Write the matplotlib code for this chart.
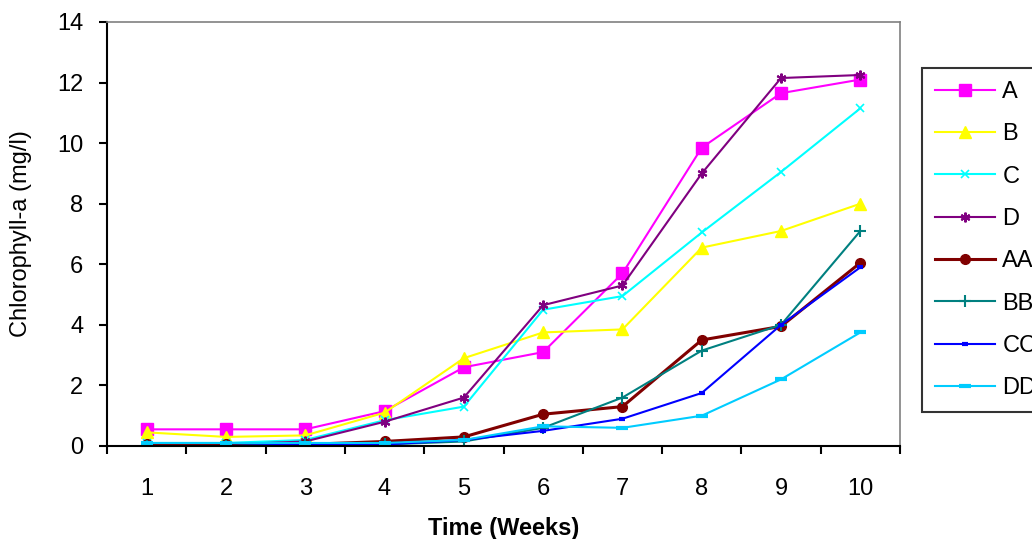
import matplotlib
matplotlib.use("Agg")
import matplotlib.pyplot as plt
from matplotlib.ticker import FixedLocator

plt.rcParams["font.family"] = ["Liberation Sans", "DejaVu Sans"]

weeks = [1, 2, 3, 4, 5, 6, 7, 8, 9, 10]
labels = ["A", "B", "C", "D", "AA", "BB", "CC", "DD"]

chl_a = [0.55, 0.55, 0.55, 1.15, 2.6, 3.1, 5.7, 9.85, 11.65, 12.1]
chl_b = [0.45, 0.3, 0.35, 1.1, 2.9, 3.75, 3.85, 6.55, 7.1, 8.0]
chl_c = [0.1, 0.1, 0.2, 0.85, 1.3, 4.5, 4.95, 7.05, 9.05, 11.15]
chl_d = [0.05, 0.05, 0.15, 0.8, 1.6, 4.65, 5.3, 9.0, 12.15, 12.25]
chl_aa = [0.05, 0.05, 0.05, 0.15, 0.3, 1.05, 1.3, 3.5, 3.95, 6.05]
chl_bb = [0.0, 0.0, 0.05, 0.05, 0.15, 0.6, 1.6, 3.15, 4.0, 7.1]
chl_cc = [0.0, 0.0, 0.05, 0.05, 0.2, 0.5, 0.9, 1.75, 4.0, 5.9]
chl_dd = [0.1, 0.1, 0.1, 0.1, 0.2, 0.65, 0.6, 1.0, 2.2, 3.75]

series = [chl_a, chl_b, chl_c, chl_d, chl_aa, chl_bb, chl_cc, chl_dd]
colors = ["#FF00FF", "#FFFF00", "#00FFFF", "#800080",
          "#800000", "#008080", "#0000FF", "#00CCFF"]
markers = ["s", "^", "x", (6, 2, 0), "o", "+", "_", "_"]
msizes = [8, 8, 6, 7, 7, 8, 5, 8]
mews = [1, 1, 1.2, 1.5, 1, 1.5, 3, 3]
lws = [1.5, 1.5, 1.5, 1.5, 2.2, 1.5, 1.5, 1.5]

fig = plt.figure(figsize=(10.32, 5.39), dpi=100)
ax = fig.add_axes([107 / 1032, 93 / 539, 793 / 1032, 424 / 539])

for vals, lab, col, mk, ms, mew, lw in zip(series, labels, colors, markers,
                                           msizes, mews, lws):
    ax.plot(weeks, vals, color=col, marker=mk, markersize=ms,
            markeredgewidth=mew, markerfacecolor=col, markeredgecolor=col,
            linewidth=lw, label=lab)

ax.set_xlim(0.5, 10.5)
ax.set_ylim(0, 14)
ax.set_yticks(range(0, 15, 2))

# category axis: ticks between weeks, labels in the middle
ax.xaxis.set_major_locator(FixedLocator([w + 0.5 for w in range(0, 11)]))
ax.xaxis.set_minor_locator(FixedLocator(weeks))
ax.set_xticklabels([])
ax.set_xticklabels([str(w) for w in weeks], minor=True)
ax.tick_params(axis="x", which="major", direction="out", length=6, width=1.5)
ax.tick_params(axis="x", which="minor", length=0, pad=23, labelsize=17)
ax.tick_params(axis="y", direction="out", length=6, width=1.5, pad=11,
               labelsize=17)

for side in ["left", "bottom"]:
    ax.spines[side].set_linewidth(1.5)
    ax.spines[side].set_color("black")
for side in ["top", "right"]:
    ax.spines[side].set_linewidth(1.2)
    ax.spines[side].set_color("#808080")

ax.set_ylabel("Chlorophyll-a (mg/l)", fontsize=17)
ax.yaxis.set_label_coords(-0.094, 0.5)
ax.set_xlabel("Time (Weeks)", fontsize=17, fontweight="bold")
ax.xaxis.set_label_coords(0.5, -0.168)

leg = fig.legend(loc="upper left", bbox_to_anchor=(922 / 1032, 1 - 68 / 539),
                 fontsize=17, frameon=True, fancybox=False, handlelength=2.55,
                 labelspacing=0.86, borderpad=0.55, handletextpad=0.3,
                 borderaxespad=0)
leg.get_frame().set_edgecolor("black")
leg.get_frame().set_linewidth(1.5)

fig.savefig("out.png", dpi=100)
